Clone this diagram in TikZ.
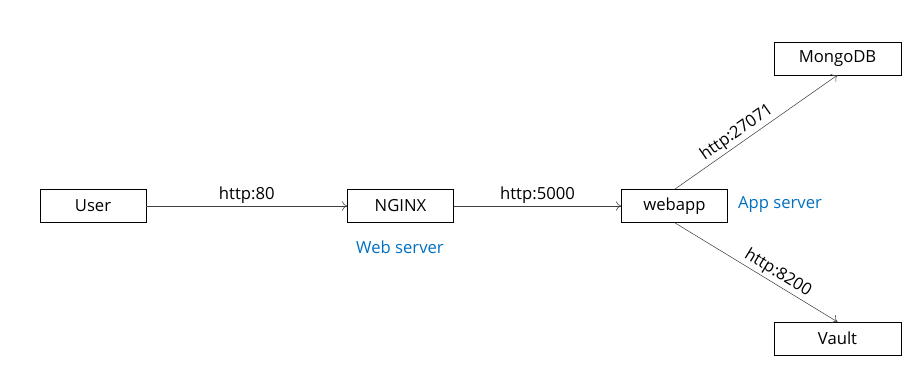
\documentclass[tikz,border=0pt]{standalone}
\usepackage{fontspec}
\setmainfont{Open Sans}
\usetikzlibrary{arrows.meta}

\definecolor{linegray}{RGB}{64,64,64}
\definecolor{tierblue}{RGB}{0,112,192}

\tikzset{
    box/.style={draw=black, thin, minimum width=79.5pt, minimum height=24.5pt,
        inner sep=0pt, font=\fontsize{12.5}{14}\selectfont},
    store/.style={box, minimum width=95pt},
    link/.style={draw=linegray, thin, -{To[length=4pt,width=7pt]}},
    port/.style={font=\fontsize{12.5}{14}\selectfont, inner sep=1.5pt},
    tier/.style={text=tierblue, font=\fontsize{12.5}{14}\selectfont}
}

\begin{document}
\begin{tikzpicture}[x=0.75pt, y=-0.75pt]
    \useasboundingbox (0, 0) rectangle (920, 381);

    \node[box] (user)   at (93, 206)    {User};
    \node[box] (nginx)  at (400.5, 206) {NGINX};
    \node[box] (webapp) at (674.5, 206) {webapp};
    \node[store] (mongo) at (837.5, 58.5)  {MongoDB};
    \node[store] (vault) at (837.5, 338.5) {Vault};

    \draw[link] (user) -- node[port, above] {http:80} (nginx);
    \draw[link] (nginx) -- node[port, above] {http:5000} (webapp);
    \draw[link] (webapp.north) -- node[port, sloped, above, pos=0.42] {http:27071} (mongo.south);
    \draw[link] (webapp.south) -- node[port, sloped, above, pos=0.6] {http:8200} (vault.north);

    \node[tier] (web-tier) at (400, 247) {Web server};
    \node[tier] (app-tier) at (780, 205) {App server};
\end{tikzpicture}
\end{document}
